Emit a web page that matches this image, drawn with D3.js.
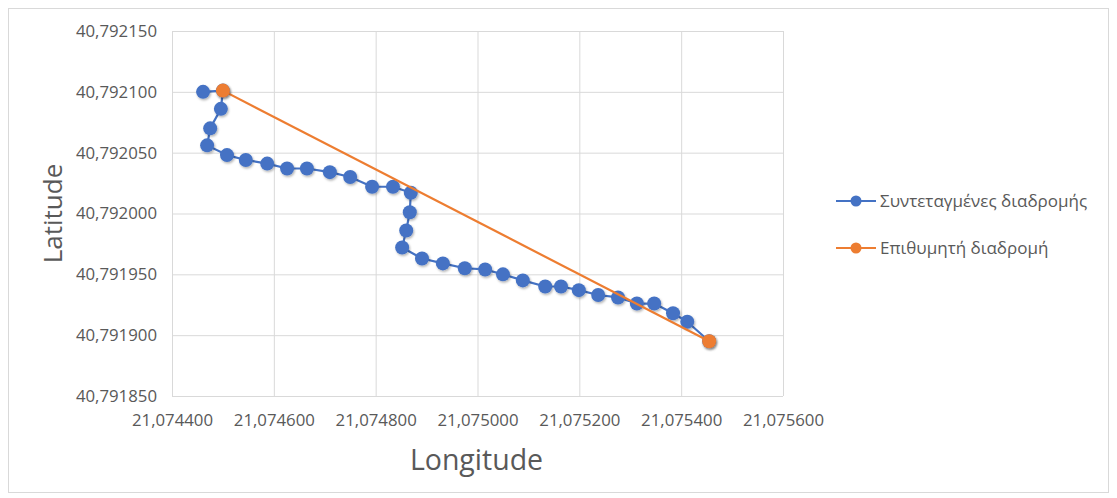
<!DOCTYPE html>
<html>
<head>
<meta charset="utf-8">
<script src="https://cdn.jsdelivr.net/npm/d3@7"></script>
<style>
  html, body { margin: 0; padding: 0; background: #fff; }
  svg { display: block; font-family: "Open Sans", "Noto Sans", sans-serif; }
</style>
</head>
<body>
<svg id="chart" width="1117" height="498"></svg>
<script>
// Route coordinates (Συντεταγμένες διαδρομής)
const routeLon = [21.074461, 21.074500, 21.074496, 21.074475, 21.074469, 21.074508, 21.074545, 21.074587,
  21.074626, 21.074665, 21.074710, 21.074750, 21.074793, 21.074834, 21.074869, 21.074867, 21.074860,
  21.074852, 21.074891, 21.074932, 21.074975, 21.075015, 21.075050, 21.075089, 21.075133, 21.075164,
  21.075199, 21.075237, 21.075276, 21.075313, 21.075347, 21.075384, 21.075412, 21.075455];
const routeLat = [40.792100, 40.792101, 40.792086, 40.792070, 40.792056, 40.792048, 40.792044, 40.792041,
  40.792037, 40.792037, 40.792034, 40.792030, 40.792022, 40.792022, 40.792017, 40.792001, 40.791986,
  40.791972, 40.791963, 40.791959, 40.791955, 40.791954, 40.791950, 40.791945, 40.791940, 40.791940,
  40.791937, 40.791933, 40.791931, 40.791926, 40.791926, 40.791918, 40.791911, 40.791895];
// Desired route (Επιθυμητή διαδρομή)
const targetLon = [21.074500, 21.075455];
const targetLat = [40.792101, 40.791895];

const xTicks = [21.0744, 21.0746, 21.0748, 21.0750, 21.0752, 21.0754, 21.0756];
const yTicks = [40.79185, 40.7919, 40.79195, 40.7920, 40.79205, 40.7921, 40.79215];
const seriesNames = ["Συντεταγμένες διαδρομής", "Επιθυμητή διαδρομή"];
const seriesColors = ["#4472C4", "#ED7D31"];

const loc = d3.formatLocale({decimal: ",", thousands: ".", grouping: [3], currency: ["", "€"]});
const fmt = loc.format(".6f");

const svg = d3.select("#chart");
const W = 1117, H = 498;
const plot = {left: 172, right: 783, top: 31, bottom: 396};

// outer border
svg.append("rect").attr("x", 8.5).attr("y", 8.5).attr("width", W - 17).attr("height", H - 14)
  .attr("fill", "#fff").attr("stroke", "#d9d9d9").attr("stroke-width", 1);

const x = d3.scaleLinear().domain([xTicks[0], xTicks[xTicks.length - 1]]).range([plot.left, plot.right]);
const y = d3.scaleLinear().domain([yTicks[0], yTicks[yTicks.length - 1]]).range([plot.bottom, plot.top]);

const defs = svg.append("defs");
const f = defs.append("filter").attr("id", "sh").attr("x", "-50%").attr("y", "-50%").attr("width", "200%").attr("height", "200%");
f.append("feDropShadow").attr("dx", 1).attr("dy", 1.5).attr("stdDeviation", 1.2).attr("flood-color", "#000").attr("flood-opacity", 0.3);

// gridlines
const xAxis = d3.axisBottom(x).tickValues(xTicks).tickSize(-(plot.bottom - plot.top)).tickFormat(fmt).tickPadding(18);
const yAxis = d3.axisLeft(y).tickValues(yTicks).tickSize(-(plot.right - plot.left)).tickFormat(fmt).tickPadding(15);

const gx = svg.append("g").attr("transform", `translate(0,${plot.bottom})`).call(xAxis);
const gy = svg.append("g").attr("transform", `translate(${plot.left},0)`).call(yAxis);
[gx, gy].forEach(g => {
  g.select(".domain").remove();
  g.selectAll(".tick line").attr("stroke", "#d9d9d9").attr("stroke-width", 1);
  g.selectAll(".tick text").attr("fill", "#595959").style("font-size", "16.8px")
    .style("font-family", "'Open Sans', sans-serif");
});
gx.selectAll(".tick text").attr("dy", "0.71em");

// axis titles
svg.append("text").attr("x", (plot.left + plot.right) / 2 - 1).attr("y", 470)
  .attr("text-anchor", "middle").attr("fill", "#595959").style("font-size", "28.5px").text("Longitude");
svg.append("text").attr("transform", `translate(62,${(plot.top + plot.bottom) / 2}) rotate(-90)`)
  .attr("text-anchor", "middle").attr("fill", "#595959").style("font-size", "26px").text("Latitude");

const route = routeLon.map((d, i) => ({lon: d, lat: routeLat[i]}));
const target = targetLon.map((d, i) => ({lon: d, lat: targetLat[i]}));
const line = d3.line().x(d => x(d.lon)).y(d => y(d.lat));

// route series
svg.append("path").datum(route).attr("d", line).attr("fill", "none")
  .attr("stroke", seriesColors[0]).attr("stroke-width", 2.2).attr("stroke-linejoin", "round");
svg.append("g").selectAll("circle").data(route).join("circle")
  .attr("cx", d => x(d.lon)).attr("cy", d => y(d.lat)).attr("r", 7)
  .attr("fill", seriesColors[0]).attr("filter", "url(#sh)");

// target series
svg.append("path").datum(target).attr("d", line).attr("fill", "none")
  .attr("stroke", seriesColors[1]).attr("stroke-width", 2.2);
svg.append("g").selectAll("circle").data(target).join("circle")
  .attr("cx", d => x(d.lon)).attr("cy", d => y(d.lat)).attr("r", 7)
  .attr("fill", seriesColors[1]).attr("filter", "url(#sh)");

// legend
const legend = svg.append("g");
seriesNames.forEach((name, i) => {
  const ly = 201 + i * 47;
  legend.append("line").attr("x1", 836).attr("x2", 876).attr("y1", ly).attr("y2", ly)
    .attr("stroke", seriesColors[i]).attr("stroke-width", 2.2);
  legend.append("circle").attr("cx", 856).attr("cy", ly).attr("r", 5.5).attr("fill", seriesColors[i]);
  legend.append("text").attr("x", 880).attr("y", ly).attr("dy", "0.35em")
    .attr("fill", "#595959").style("font-size", "17px").text(name);
});
</script>
</body>
</html>
